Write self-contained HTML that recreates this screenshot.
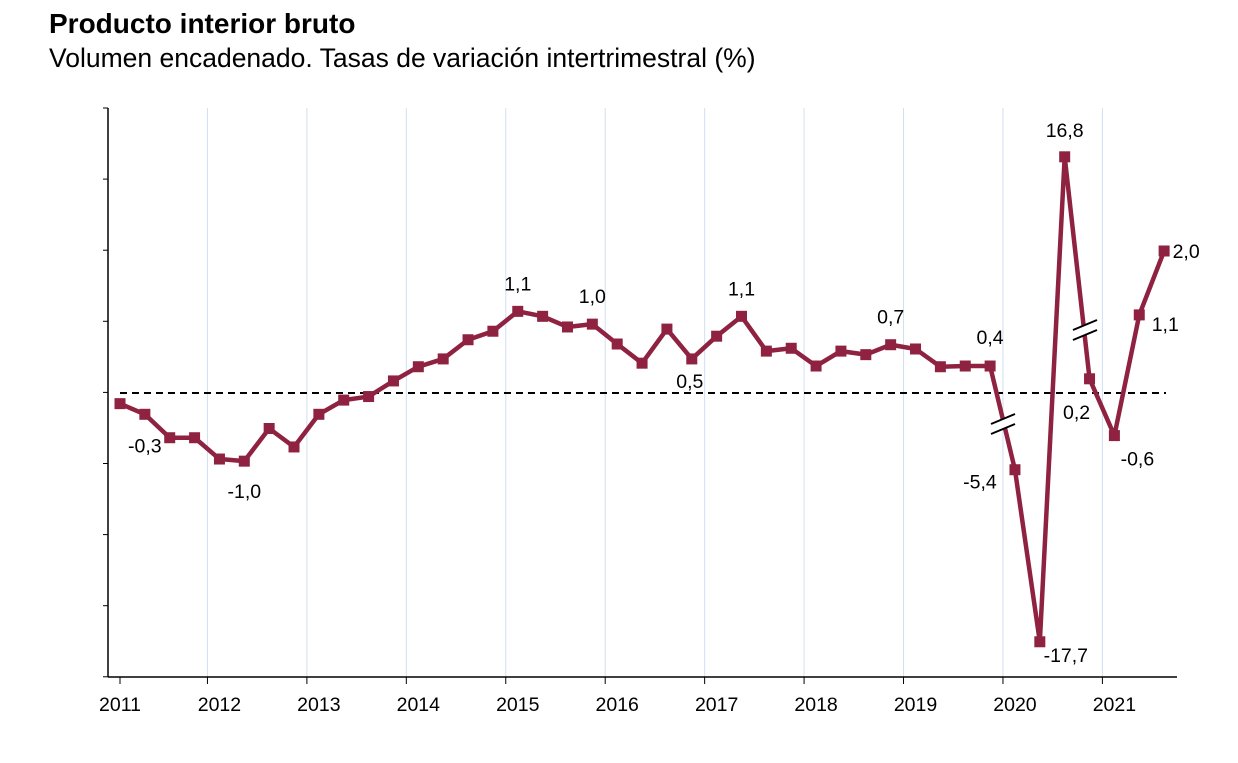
<!DOCTYPE html>
<html><head><meta charset="utf-8"><style>
body{margin:0;background:#fff;font-family:"Liberation Sans",sans-serif;}
svg text{font-family:"Liberation Sans",sans-serif;}
</style></head><body>
<svg width="1238" height="758">
<text x="49" y="33" font-size="28" font-weight="bold">Producto interior bruto</text>
<text x="49" y="67" font-size="26.5">Volumen encadenado. Tasas de variación intertrimestral (%)</text>
<g id="grid"></g>
<line x1="108" y1="108" x2="108" y2="677" stroke="#000" stroke-width="1.5"/>
<line x1="108" y1="677" x2="1177" y2="677" stroke="#000" stroke-width="1.5"/>
<line x1="120" y1="393" x2="1166" y2="393" stroke="#000" stroke-width="2" stroke-dasharray="7,5"/>
<g id="marks"></g>
</svg>
<script>
const years=['2011','2012','2013','2014','2015','2016','2017','2018','2019','2020','2021'];
const values=[-0.15,-0.3,-0.63,-0.63,-0.93,-0.96,-0.5,-0.76,-0.3,-0.1,-0.05,0.17,0.37,0.48,0.75,0.87,1.15,1.08,0.93,0.97,0.69,0.42,0.9,0.48,0.8,1.08,0.59,0.63,0.38,0.59,0.54,0.68,0.62,0.37,0.38,0.38,-5.4,-17.7,16.8,0.2,-0.6,1.1,2.0];
const labelIdx=[1,5,16,19,23,25,31,35,36,37,38,39,40,41,42];
const labelText=['-0,3','-1,0','1,1','1,0','0,5','1,1','0,7','0,4','-5,4','-17,7','16,8','0,2','-0,6','1,1','2,0'];
const labelOff=[[0,31],[0,30],[0,-28],[0,-28],[-2,22],[0,-28],[0,-28],[0,-29],[-35,12],[26,13],[0,-27],[-13,33],[23,23],[26,9],[22,0]];
const svgNS='http://www.w3.org/2000/svg';
const X=i=>120+i*24.86;
function disp(v){return Math.abs(v)>3?Math.sign(v)*(0.017+0.197*Math.abs(v)):v;}
const Y=v=>393-disp(v)*71;
const grid=document.getElementById('grid'),marks=document.getElementById('marks');
function mk(tag,attrs,parent){const e=document.createElementNS(svgNS,tag);for(const k in attrs)e.setAttribute(k,attrs[k]);parent.appendChild(e);return e;}
for(let k=0;k<9;k++){const t=mk('line',{x1:103,x2:108,y1:108+k*71.1,y2:108+k*71.1,stroke:'#000'},grid);

}
years.forEach((y,k)=>{const x=X(k*4);
if(k>0){const g=mk('line',{x1:x-12,x2:x-12,y1:108,y2:677,stroke:'#cfe0f2','stroke-width':1},grid);

}
const t=mk('line',{x1:x-12+(k==0?12:0),x2:x-12+(k==0?12:0),y1:677,y2:684,stroke:'#000'},grid);


const l=mk('text',{x:x,y:711,'font-size':19.5,'text-anchor':'middle'},grid);l.textContent=y;

});
const pts=values.map((v,i)=>X(i)+','+Y(v)).join(' ');
const pl=mk('polyline',{points:pts,fill:'none',stroke:'#8e2240','stroke-width':4.5,'stroke-linejoin':'round'},marks);


values.forEach((v,i)=>{const r=mk('rect',{x:X(i)-5.5,y:Y(v)-5.5,width:11,height:11,fill:'#8e2240'},marks);

});
[[1003,424],[1085,330]].forEach(([x,y])=>{
const w=mk('line',{x1:x-12,y1:y+5,x2:x+12,y2:y-5,stroke:'#fff','stroke-width':8},marks);


[-5,5].forEach(d=>{const b=mk('line',{x1:x-12,y1:y+d+5,x2:x+12,y2:y+d-5,stroke:'#000','stroke-width':2},marks);

});});
labelIdx.forEach((i,k)=>{const t=mk('text',{x:X(i)+labelOff[k][0],y:Y(values[i])+labelOff[k][1]+7,'font-size':19.5,'text-anchor':'middle'},marks);t.textContent=labelText[k];

});
</script>
</body></html>
